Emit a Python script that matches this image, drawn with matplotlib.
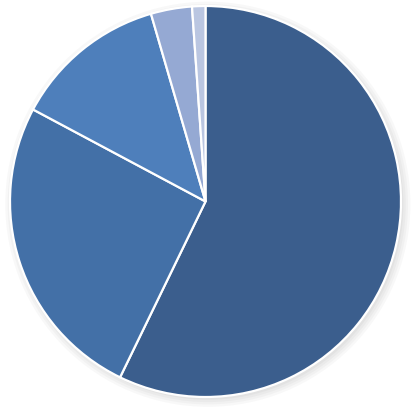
import matplotlib
matplotlib.use("Agg")
import matplotlib.pyplot as plt
from matplotlib.patches import Circle

# slice shares, clockwise from 12 o'clock
labels = ["A", "B", "C", "D", "E"]
shares = [57.2, 25.6, 12.7, 3.4, 1.1]
colors = ["#3B5E8D", "#4370A7", "#4E7FBB", "#95A9D3", "#BAC6E1"]

fig = plt.figure(figsize=(4.11, 4.11), dpi=100)
ax = fig.add_axes([10 / 411, 14 / 411, 391 / 411, 391 / 411])

# soft shadow down-right of the pie
for i, a in enumerate([0.05, 0.05, 0.06, 0.07]):
    ax.add_patch(Circle((0.012, -0.014), 1.0 + 0.012 * (3 - i), color="#7f7f7f",
                        alpha=a, lw=0, zorder=0, clip_on=False))

wedges, _ = ax.pie(shares, colors=colors, startangle=90, counterclock=False,
                   radius=1.0, wedgeprops=dict(edgecolor="white", linewidth=1.6))
for w in wedges:
    w.set_zorder(2)
    w.set_clip_on(False)

ax.set_xlim(-1.0, 1.0)
ax.set_ylim(-1.0, 1.0)
ax.set_aspect("equal")
ax.axis("off")

fig.savefig("out.png", dpi=100)
